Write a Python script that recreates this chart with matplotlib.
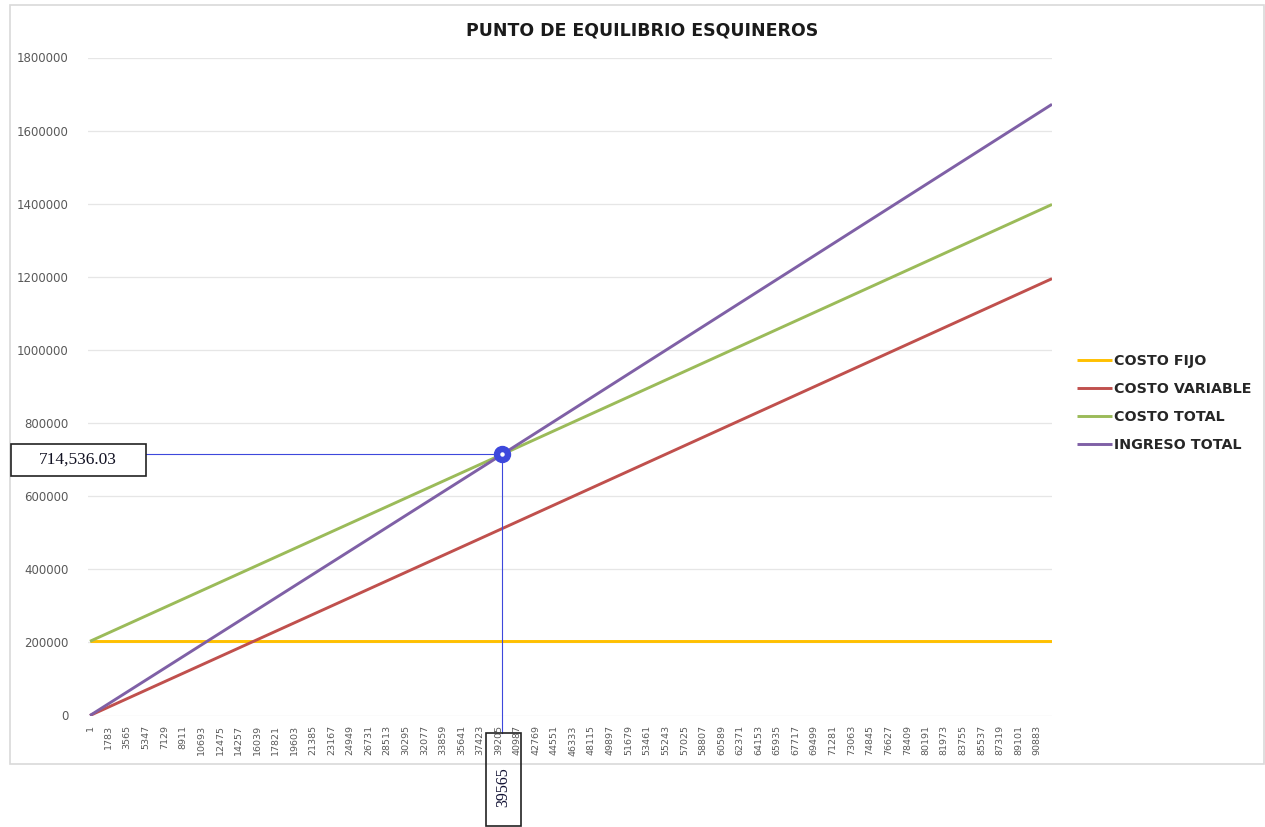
import matplotlib.pyplot as plt
from matplotlib.patches import Rectangle

# datos (unidades vs pesos)
unidades = [1, 39565, 92300]
costo_fijo = [203000, 203000, 203000]
costo_variable = [13, 511536, 1195000]
costo_total = [203013, 714536.03, 1398000]
ingreso_total = [18, 714536.03, 1672000]

pe_unidades = 39565
pe_valor = 714536.03

etiquetas_x = [1, 1783, 3565, 5347, 7129, 8911, 10693, 12475, 14257, 16039,
               17821, 19603, 21385, 23167, 24949, 26731, 28513, 30295, 32077,
               33859, 35641, 37423, 39205, 40987, 42769, 44551, 46333, 48115,
               49897, 51679, 53461, 55243, 57025, 58807, 60589, 62371, 64153,
               65935, 67717, 69499, 71281, 73063, 74845, 76627, 78409, 80191,
               81973, 83755, 85537, 87319, 89101, 90883]
ticks_y = [0, 200000, 400000, 600000, 800000, 1000000, 1200000, 1400000,
           1600000, 1800000]

W, H = 1265, 827
fig = plt.figure(figsize=(W / 100, H / 100), dpi=100)
ax = fig.add_axes([88 / W, 1 - 715.5 / H, (1052 - 88) / W, 658 / H])

# borde del area del grafico
fig.patches.append(Rectangle((10 / W, 1 - 764 / H), (1264 - 10) / W, (764 - 5) / H,
                             transform=fig.transFigure, fill=False,
                             ec='#d9d9d9', lw=1.2))

ax.plot(unidades, costo_fijo, color='#FFC000', lw=2.1, label='COSTO FIJO', solid_capstyle='butt')
ax.plot(unidades, costo_variable, color='#C0504D', lw=2.1, label='COSTO VARIABLE', solid_capstyle='butt')
ax.plot(unidades, costo_total, color='#9BBB59', lw=2.1, label='COSTO TOTAL', solid_capstyle='butt')
ax.plot(unidades, ingreso_total, color='#7F60A6', lw=2.1, label='INGRESO TOTAL', solid_capstyle='butt')

ax.set_xlim(-190, unidades[-1])
ax.set_ylim(0, 1800000)
ax.set_xticks(etiquetas_x)
ax.set_xticklabels([str(v) for v in etiquetas_x], rotation=90, fontsize=6.8, color='#595959')
ax.set_yticks(ticks_y)
ax.set_yticklabels([str(v) for v in ticks_y], fontsize=8.5, color='#595959')
ax.tick_params(axis='both', length=0)
ax.tick_params(axis='x', pad=7)
ax.tick_params(axis='y', pad=14)
ax.grid(True, axis='y', color='#e6e6e6', lw=0.9)
ax.set_axisbelow(True)
for s in ax.spines.values():
    s.set_visible(False)

fig.text(642 / W, 1 - 30 / H, 'PUNTO DE EQUILIBRIO ESQUINEROS', ha='center', va='center',
         fontsize=12.5, fontweight='bold', color='#1a1a1a')

# lineas guia del punto de equilibrio
x0, x1 = ax.get_xlim()
x_caja = x0 + (146 - 88) / (1052 - 88) * (x1 - x0)
y_caja = -(733 - 715.5) / 658 * 1800000
azul = '#3d48dc'
ax.plot([x_caja, pe_unidades], [pe_valor, pe_valor], color=azul, lw=0.8, clip_on=False, zorder=5)
ax.plot([pe_unidades, pe_unidades], [pe_valor, y_caja], color=azul, lw=0.8, clip_on=False, zorder=5)
ax.plot([pe_unidades], [pe_valor], 'o', ms=11.5, color=azul, zorder=6, clip_on=False)
ax.plot([pe_unidades], [pe_valor], 'o', ms=2.2, color='white', zorder=7, clip_on=False)

# cajas de texto
fig.patches.append(Rectangle((11 / W, 1 - 476 / H), (146 - 11) / W, 32 / H,
                             transform=fig.transFigure, fill=True, fc='white',
                             ec='#222222', lw=1.2))
fig.text(78 / W, 1 - 460 / H, f'{pe_valor:,.2f}', ha='center', va='center',
         fontsize=12.5, family='Liberation Serif', color='#111122')
fig.patches.append(Rectangle((486 / W, 1 - 826 / H), 35 / W, (826 - 733) / H,
                             transform=fig.transFigure, fill=False,
                             ec='#222222', lw=1.2))
fig.text(503 / W, 1 - 787 / H, str(pe_unidades), ha='center', va='center', rotation=90,
         fontsize=11.5, family='Liberation Serif', color='#111133')

leg = fig.legend(loc='center left', bbox_to_anchor=(1077 / W, 1 - 403 / H),
                 frameon=False, borderpad=0, borderaxespad=0, handlelength=2.45,
                 handletextpad=0.15, labelspacing=0.98,
                 prop={'weight': 'bold', 'size': 10.3})
for t in leg.get_texts():
    t.set_color('#262626')

fig.savefig('out.png', dpi=100)
